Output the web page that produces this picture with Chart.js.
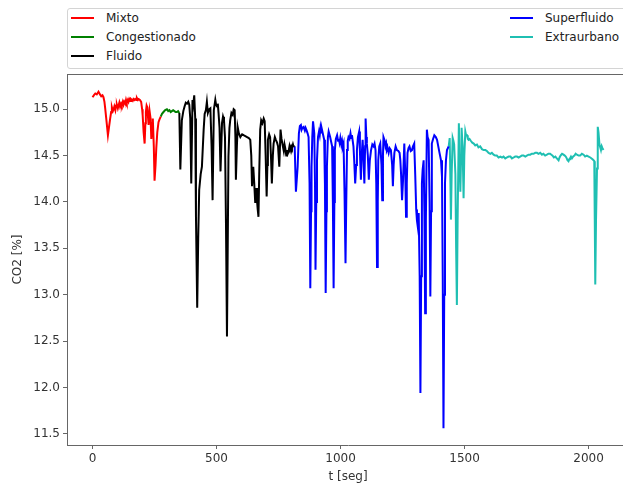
<!DOCTYPE html>
<html><head><meta charset="utf-8">
<script src="https://cdn.jsdelivr.net/npm/chart.js@4.4.1/dist/chart.umd.min.js"></script>
<style>
html,body{margin:0;padding:0;overflow:hidden;background:#fff;width:623px;height:485px;}
#wrap{position:relative;width:623px;height:485px;overflow:hidden;}
canvas{position:absolute;left:0;top:0;}
#legend{position:absolute;left:67px;top:8px;width:565px;height:59px;border:1px solid #d4d4d4;border-radius:3px;background:#fff;font-family:"DejaVu Sans";font-size:12px;color:#222;}
.h{position:absolute;width:23px;height:2px;}
.t{position:absolute;height:14px;line-height:14px;white-space:nowrap;}
</style></head>
<body>
<div id="wrap">
<canvas id="c" width="640" height="485"></canvas>
<div id="legend"></div>
</div>
<script>
const seriesNames = ['Mixto','Congestionado','Fluido','Superfluido','Extraurbano'];
const seriesColors = ['#ff0000','#008000','#000000','#0000ff','#1fbfb2'];
const xTicks = [0,500,1000,1500,2000];
const yTicks = [11.5,12.0,12.5,13.0,13.5,14.0,14.5,15.0];

const mixto = [[0,15.13],[5,15.15],[11,15.17],[17,15.16],[24,15.19],[30,15.16],[35,15.14],[40,15.15],[44,15.13],[48,15.08],[51,15.01],[56,14.88],[62,14.72],[66,14.8],[71,14.9],[75,14.97],[78,15.02],[82,14.98],[85,15.0],[88,15.03],[92,14.99],[95,15.04],[98,15.05],[102,15.01],[105,15.04],[108,15.07],[111,15.03],[115,15.06],[118,15.04],[122,15.08],[125,15.05],[128,15.08],[132,15.06],[135,15.1],[138,15.07],[142,15.1],[145,15.08],[148,15.11],[152,15.09],[155,15.11],[159,15.1],[162,15.09],[165,15.11],[169,15.1],[172,15.11],[176,15.1],[179,15.12],[183,15.1],[186,15.11],[191,15.1],[196,15.08],[200,15.0],[202,14.94],[206,14.75],[210,14.63],[213,14.85],[215,14.97],[218,15.04],[221,15.02],[224,14.9],[226,14.83],[230,14.98],[234,14.9],[237,14.68],[240,14.85],[243,14.9],[247,14.6],[250,14.23],[254,14.4],[257,14.58],[261,14.75],[266,14.86],[270,14.89],[275,14.92]];
const congestionado = [[275,14.92],[280,14.95],[286,14.97],[293,14.99],[300,15.0],[305,14.98],[310,14.99],[315,14.97],[320,14.98],[325,14.99],[330,14.98],[335,14.97],[340,14.97],[345,14.98],[350,14.96]];
const fluido = [[350,14.96],[354,14.35],[360,14.88],[366,14.98],[371,15.03],[376,15.07],[381,15.06],[386,15.08],[390,15.05],[394,14.9],[398,14.2],[403,15.1],[406,15.05],[410,15.15],[414,14.9],[417,13.84],[422,12.86],[426,13.6],[430,14.13],[436,14.3],[441,14.38],[448,14.78],[452,14.95],[457,14.99],[461,15.08],[465,14.96],[470,15.0],[475,15.01],[480,14.6],[484,14.02],[489,14.99],[495,15.1],[498,15.05],[502,15.03],[505,15.06],[508,14.96],[512,14.8],[516,14.33],[522,14.85],[526,14.92],[530,14.88],[534,14.7],[538,13.77],[542,12.55],[545,13.5],[548,14.49],[552,14.8],[555,14.88],[560,14.96],[565,14.94],[569,15.0],[573,14.99],[576,14.7],[578,14.24],[582,14.6],[585,14.81],[590,14.74],[596,14.7],[603,14.73],[609,14.72],[616,14.71],[623,14.7],[630,14.69],[636,14.67],[640,14.5],[643,14.17],[648,14.38],[652,14.2],[656,13.99],[660,14.15],[663,14.02],[666,13.92],[669,13.84],[672,14.3],[676,14.78],[680,14.88],[685,14.85],[690,14.9],[694,14.87],[698,14.5],[702,14.06],[705,14.4],[707,14.67],[712,14.73],[716,14.7],[720,14.45],[723,14.2],[727,14.5],[730,14.63],[735,14.7],[739,14.67],[744,14.64],[748,14.6],[753,14.38],[758,14.78],[762,14.68],[766,14.62],[771,14.55],[774,14.62],[777,14.58],[781,14.5],[784,14.56],[787,14.52],[790,14.54],[794,14.6],[797,14.56],[801,14.6],[804,14.58],[808,14.62],[810,14.6],[815,14.6]];
const superfluido = [[815,14.6],[820,14.11],[827,14.38],[832,14.74],[836,14.82],[840,14.83],[843,14.78],[846,14.8],[851,14.81],[856,14.77],[859,14.8],[862,14.78],[867,14.74],[871,14.7],[875,14.2],[878,13.07],[881,13.9],[883,14.38],[886,14.7],[889,14.87],[894,14.74],[897,14.2],[899,13.27],[902,14.0],[905,14.45],[909,14.7],[913,14.76],[916,14.72],[919,14.8],[922,14.75],[925,14.78],[930,14.72],[934,14.67],[937,14.2],[940,13.02],[943,13.9],[945,14.38],[949,14.7],[952,14.76],[955,14.73],[958,14.7],[962,14.65],[966,14.6],[969,14.0],[972,13.07],[975,14.0],[977,14.56],[981,14.68],[986,14.72],[990,14.66],[993,14.68],[996,14.64],[999,14.69],[1003,14.62],[1006,14.66],[1009,14.6],[1012,14.63],[1016,14.1],[1020,13.34],[1023,14.0],[1026,14.56],[1029,14.66],[1032,14.7],[1036,14.68],[1040,14.74],[1043,14.69],[1046,14.72],[1049,14.66],[1052,14.6],[1055,14.45],[1059,14.2],[1063,14.4],[1066,14.56],[1070,14.7],[1075,14.76],[1078,14.55],[1082,14.24],[1085,14.5],[1089,14.67],[1092,14.5],[1096,14.2],[1099,14.6],[1101,14.9],[1104,14.7],[1106,14.63],[1110,14.5],[1114,14.24],[1118,14.45],[1123,14.56],[1128,14.62],[1133,14.6],[1137,14.63],[1141,14.56],[1144,14.2],[1147,13.3],[1150,14.0],[1152,14.45],[1156,14.6],[1160,14.63],[1165,14.4],[1168,14.02],[1171,14.5],[1173,14.7],[1178,14.66],[1181,14.6],[1184,14.63],[1187,14.56],[1190,14.58],[1194,14.53],[1198,14.58],[1203,14.56],[1208,14.4],[1211,14.17],[1214,14.4],[1217,14.53],[1222,14.6],[1227,14.56],[1233,14.55],[1238,14.53],[1241,14.45],[1244,14.3],[1248,14.02],[1252,14.24],[1257,14.63],[1261,14.3],[1264,13.84],[1267,14.2],[1270,14.53],[1274,14.58],[1278,14.6],[1283,14.55],[1288,14.56],[1292,14.6],[1297,14.63],[1301,14.3],[1305,13.92],[1308,13.8],[1311,13.74],[1315,13.88],[1319,13.2],[1322,11.94],[1325,13.2],[1328,14.2],[1331,14.35],[1335,14.45],[1338,13.9],[1341,12.8],[1344,13.8],[1348,14.78],[1351,14.7],[1355,14.67],[1359,14.0],[1362,12.98],[1365,13.9],[1368,14.63],[1373,14.68],[1378,14.72],[1384,14.7],[1389,14.67],[1394,14.6],[1399,14.53],[1405,14.45],[1409,14.27],[1412,13.2],[1415,11.56],[1418,13.0],[1421,14.2],[1425,14.45],[1429,14.56],[1436,14.6]];
const extraurbano = [[1436,14.6],[1440,14.69],[1443,14.2],[1445,13.81],[1448,14.3],[1452,14.69],[1455,14.66],[1458,14.62],[1463,14.3],[1466,13.5],[1469,12.89],[1472,13.8],[1477,14.85],[1480,14.5],[1483,14.11],[1486,14.5],[1488,14.8],[1492,14.6],[1496,14.04],[1499,14.5],[1503,14.76],[1506,14.72],[1510,14.72],[1513,14.68],[1516,14.67],[1520,14.68],[1525,14.66],[1531,14.64],[1537,14.63],[1543,14.61],[1550,14.62],[1556,14.59],[1563,14.6],[1570,14.57],[1577,14.56],[1584,14.56],[1590,14.55],[1597,14.53],[1604,14.52],[1610,14.53],[1617,14.51],[1623,14.5],[1630,14.5],[1637,14.48],[1645,14.49],[1651,14.48],[1657,14.49],[1664,14.47],[1671,14.48],[1678,14.49],[1685,14.49],[1691,14.47],[1698,14.48],[1704,14.49],[1711,14.49],[1718,14.48],[1724,14.49],[1731,14.5],[1738,14.5],[1745,14.49],[1751,14.5],[1758,14.51],[1765,14.51],[1771,14.52],[1778,14.52],[1785,14.53],[1792,14.53],[1798,14.52],[1805,14.53],[1812,14.51],[1818,14.52],[1825,14.5],[1832,14.51],[1838,14.52],[1845,14.52],[1850,14.51],[1855,14.5],[1860,14.48],[1866,14.49],[1872,14.47],[1879,14.45],[1883,14.48],[1887,14.5],[1893,14.52],[1899,14.51],[1904,14.5],[1908,14.49],[1912,14.47],[1915,14.45],[1919,14.44],[1922,14.46],[1925,14.47],[1929,14.49],[1933,14.47],[1938,14.49],[1943,14.5],[1948,14.52],[1953,14.51],[1960,14.5],[1966,14.5],[1973,14.52],[1980,14.51],[1986,14.49],[1993,14.5],[2000,14.49],[2007,14.48],[2012,14.47],[2016,14.46],[2020,14.45],[2023,14.44],[2025,13.8],[2027,13.11],[2030,13.8],[2034,14.36],[2037,14.81],[2040,14.75],[2044,14.62],[2050,14.56],[2053,14.6],[2056,14.58],[2060,14.56]];

const allSeries = [mixto, congestionado, fluido, superfluido, extraurbano];

// legend (HTML)
const legendPos = [[3,9],[3,28],[3,47],[442,9],[442,28]];
const lg = document.getElementById('legend');
seriesNames.forEach((n,i)=>{
  const [lx,cy]=legendPos[i];
  const h=document.createElement('div'); h.className='h';
  h.style.left=lx+'px'; h.style.top=(cy-1)+'px'; h.style.background=seriesColors[i];
  lg.appendChild(h);
  const t=document.createElement('div'); t.className='t';
  t.style.left=(lx+35)+'px'; t.style.top=(cy-7)+'px'; t.textContent=n;
  lg.appendChild(t);
});

const spinePlugin = {id:'spine', afterDraw(c){
  const {ctx, chartArea:a} = c;
  ctx.save(); ctx.strokeStyle='#666'; ctx.lineWidth=1;
  ctx.beginPath();
  ctx.moveTo(a.left, a.top+0.5); ctx.lineTo(a.right, a.top+0.5);
  ctx.moveTo(a.right-0.5, a.top); ctx.lineTo(a.right-0.5, a.bottom);
  ctx.stroke(); ctx.restore();
}};

const fnt = {family:'DejaVu Sans', size:12};
new Chart(document.getElementById('c'), {
  type:'line',
  data:{datasets: allSeries.map((s,i)=>({
    label: seriesNames[i],
    data: s.map(([x,y])=>({x,y})),
    borderColor: seriesColors[i],
    backgroundColor: seriesColors[i],
    borderWidth: 2, pointRadius: 0, tension: 0, fill:false
  }))},
  options:{
    responsive:false, animation:false,
    layout:{padding:{top:74,right:11,left:0,bottom:0}},
    plugins:{legend:{display:false}, tooltip:{enabled:false}},
    scales:{
      x:{type:'linear', min:-103, max:2163,
        afterBuildTicks:s=>{s.ticks=xTicks.map(v=>({value:v}));},
        afterFit:s=>{s.height=40;},
        grid:{drawOnChartArea:false, drawTicks:true, tickLength:4, color:'#666'},
        border:{display:true, color:'#666', width:1},
        ticks:{color:'#333', font:fnt, padding:3, maxRotation:0, autoSkip:false, callback:v=>String(v)},
        title:{display:true, text:'t [seg]', color:'#333', font:fnt, padding:{top:0,bottom:1}}
      },
      y:{type:'linear', min:11.38, max:15.38,
        afterBuildTicks:s=>{s.ticks=yTicks.map(v=>({value:v}));},
        afterFit:s=>{s.width=67;},
        grid:{drawOnChartArea:false, drawTicks:true, tickLength:4, color:'#666'},
        border:{display:true, color:'#666', width:1},
        ticks:{color:'#333', font:fnt, padding:3, autoSkip:false, callback:v=>Number(v).toFixed(1)},
        title:{display:true, text:'CO2 [%]', color:'#333', font:fnt, padding:{top:11,bottom:0}}
      }
    }
  },
  plugins:[spinePlugin]
});
</script>
</body></html>
